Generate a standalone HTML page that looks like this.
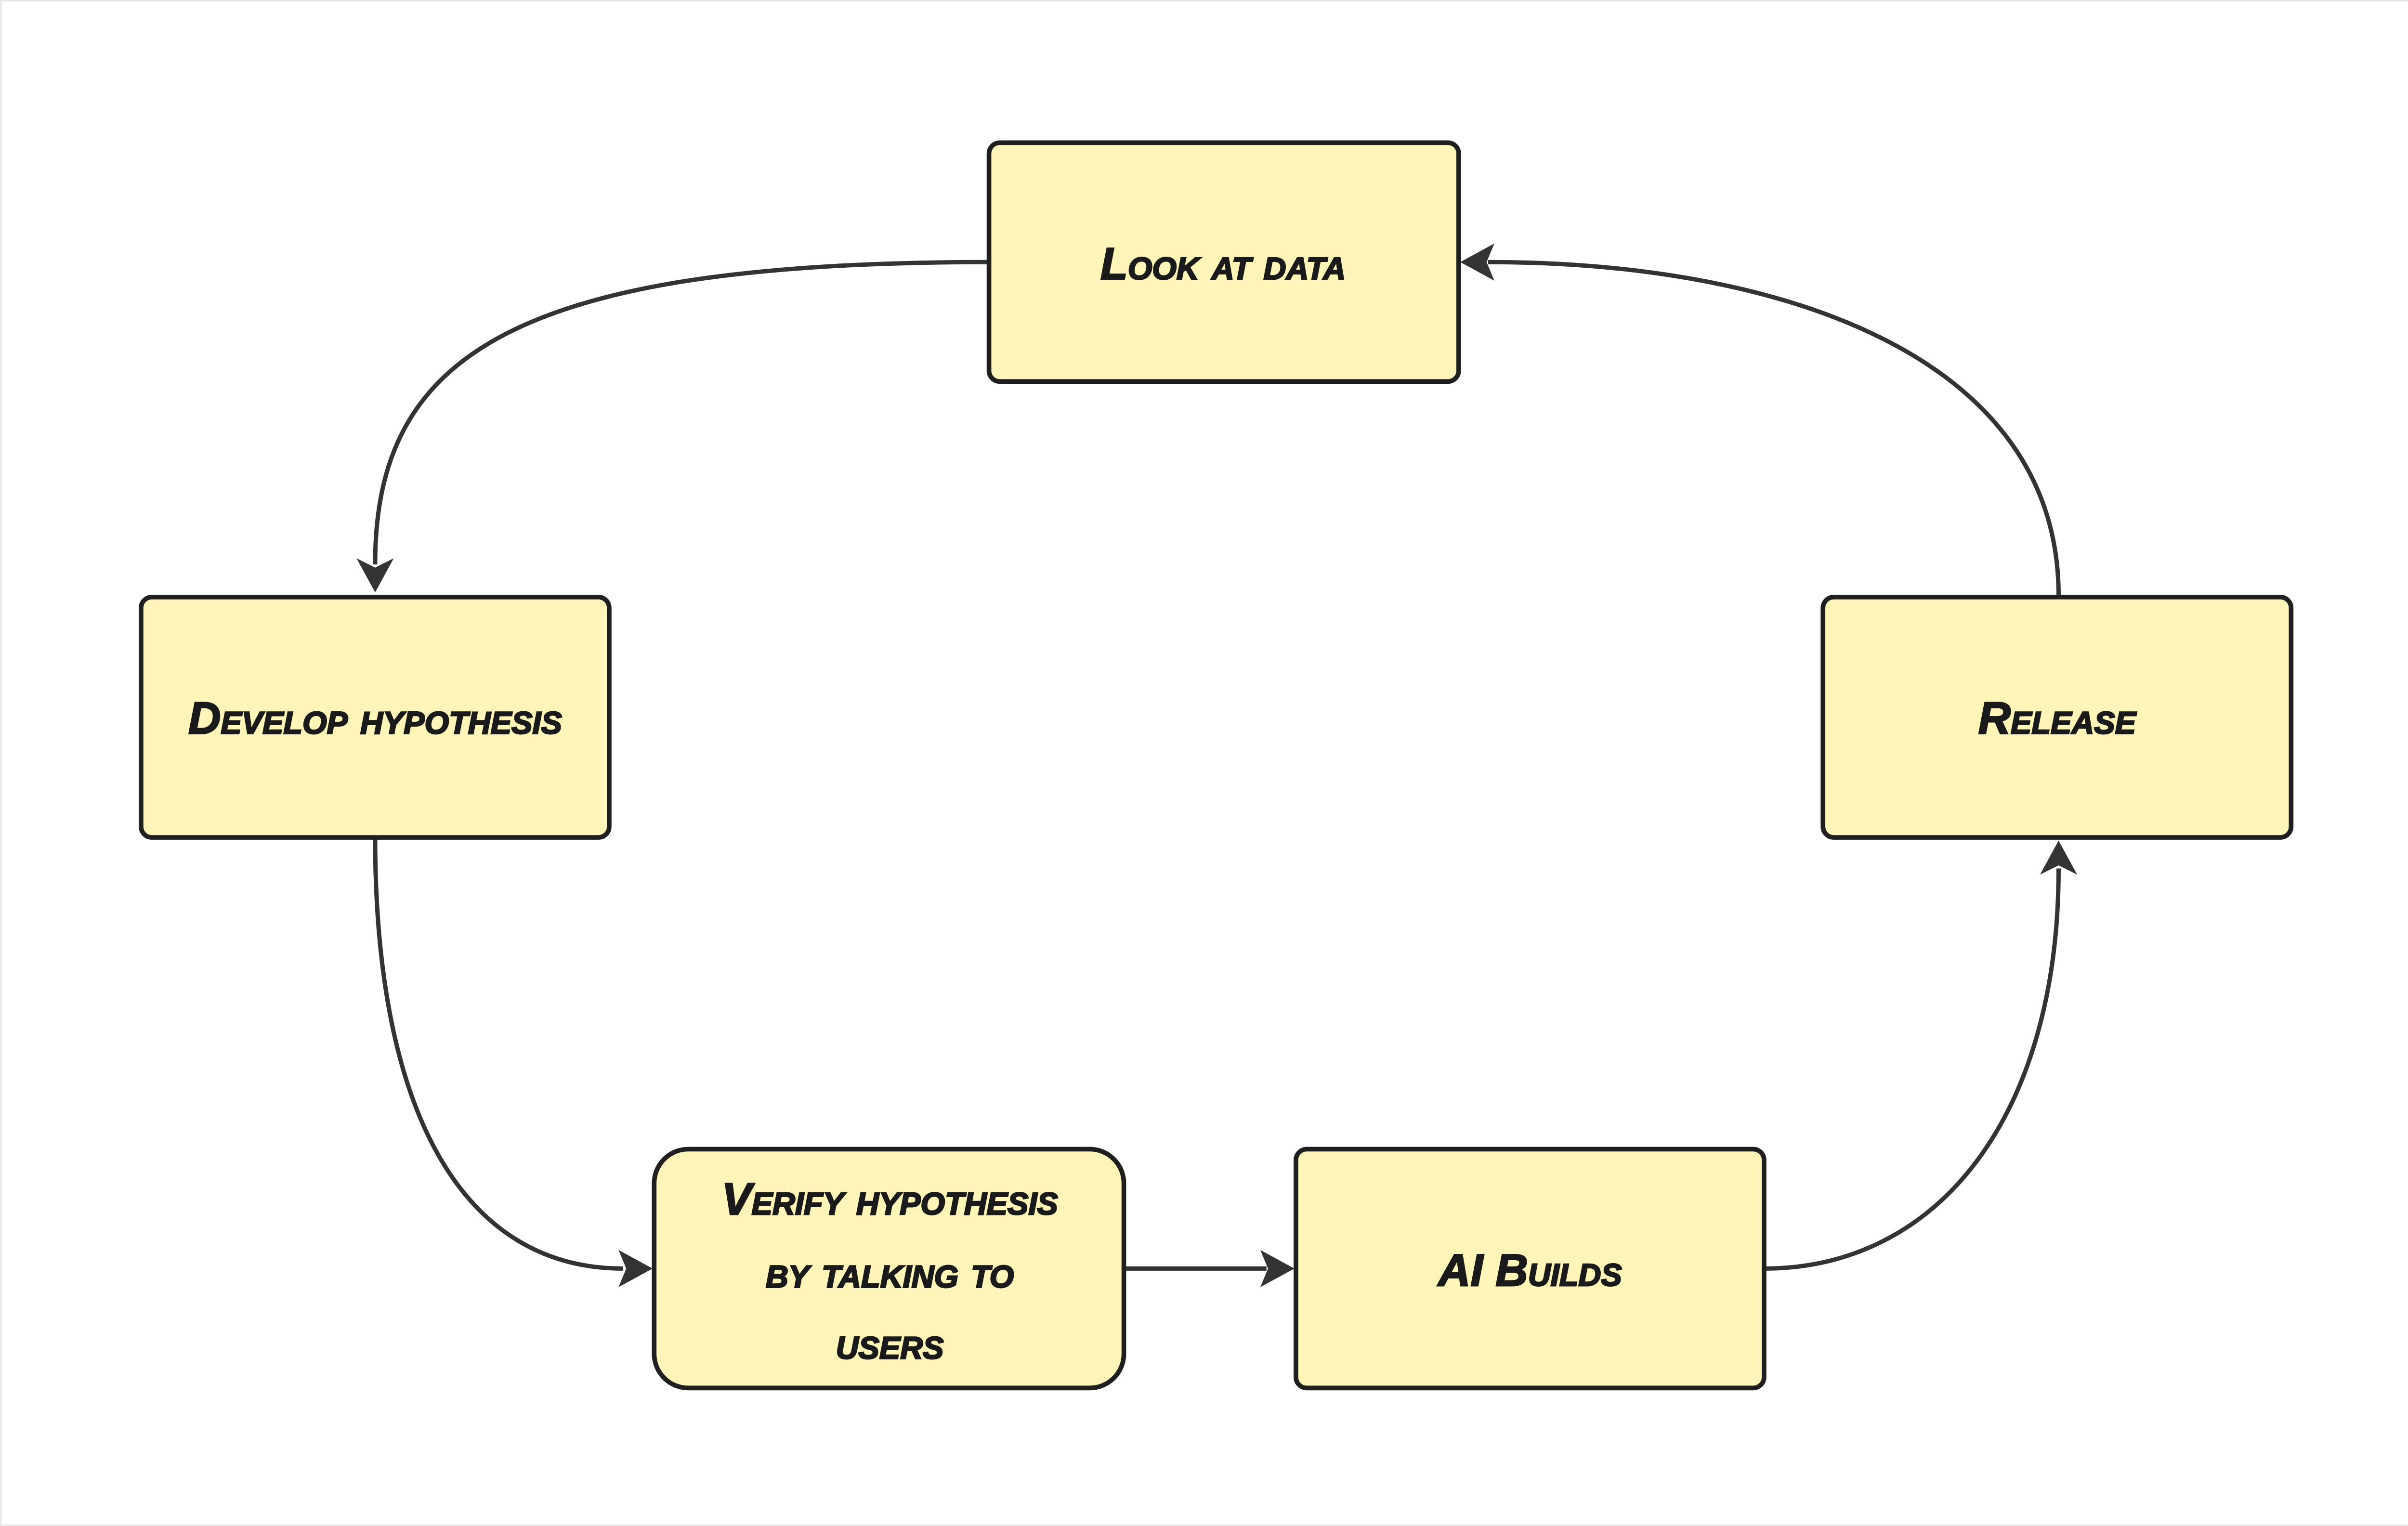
<!DOCTYPE html>
<html><head><meta charset="utf-8"><style>
html,body{margin:0;padding:0;background:#fff;}
svg{display:block;}
text{font-family:"Liberation Sans",sans-serif;font-weight:bold;font-style:italic;font-variant:small-caps;fill:#1a1a1a;stroke:#1a1a1a;stroke-width:0.9;font-size:29px;text-anchor:middle;dominant-baseline:central;letter-spacing:0px;}
</style></head><body>
<svg width="5047" height="3169" viewBox="0 0 1568 984" preserveAspectRatio="none" xmlns="http://www.w3.org/2000/svg">
<rect x="0.5" y="0.5" width="1567" height="983" fill="#fff" stroke="#e6e6e6" stroke-width="1"/>
<g fill="none" stroke="#333" stroke-width="2.8">
<path d="M638,169 C330,169 242,230 242,364" />
<path d="M242,540 C242,720 300,818 402,818" />
<path d="M725,818 L817,818" />
<path d="M1138,818 C1250,818 1328,720 1328,560" />
<path d="M1328,384 C1328,230 1150,169 960,169" />
</g>
<g fill="#333">
<path d="M242,382 L230,360 L242,366 L254,360 Z"/>
<path d="M421,818 L399,806 L404,818 L399,830 Z"/>
<path d="M835,818 L813,806 L818,818 L813,830 Z"/>
<path d="M1328,542 L1316,564 L1328,558 L1340,564 Z"/>
<path d="M942,169 L964,157 L959,169 L964,181 Z"/>
</g>
<g fill="#fff5b8" stroke="#1f1f1f" stroke-width="3">
<rect x="638" y="92" width="303" height="154" rx="7"/>
<rect x="91" y="385" width="302" height="155" rx="7"/>
<rect x="1176" y="385" width="302" height="155" rx="7"/>
<rect x="422" y="741" width="303" height="154" rx="22"/>
<rect x="836" y="741" width="302" height="154" rx="7"/>
</g>
<text x="789" y="170">Look at data</text>
<text x="242" y="463">Develop hypothesis</text>
<text x="1327" y="463">Release</text>
<text x="574" y="773">Verify hypothesis</text>
<text x="574" y="820">by talking to</text>
<text x="574" y="866">users</text>
<text x="987" y="819">AI Builds</text>
</svg>
</body></html>
